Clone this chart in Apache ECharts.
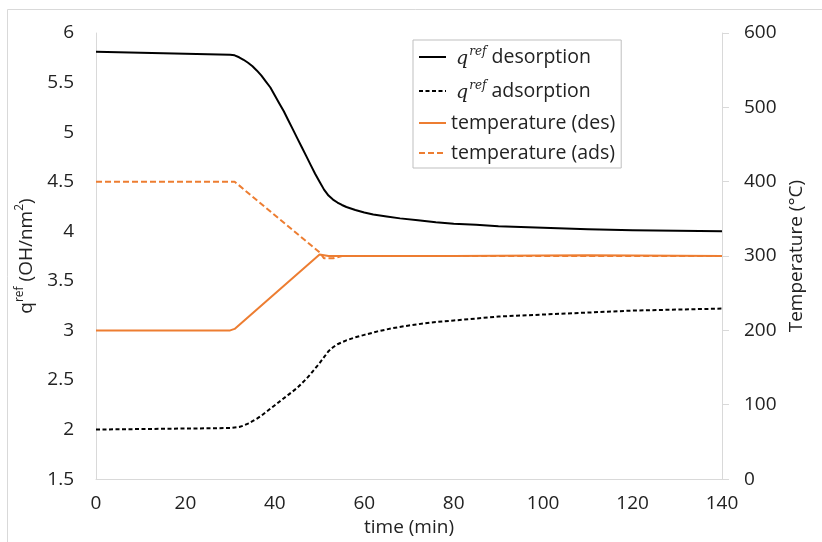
<!DOCTYPE html>
<html>
<head>
<meta charset="utf-8">
<script src="https://cdn.jsdelivr.net/npm/echarts@6/dist/echarts.min.js"></script>
<style>html,body{margin:0;padding:0;background:#fff;}#c{width:822px;height:542px;}</style>
</head>
<body>
<div id="c"></div>
<script>
const desTime = [0, 10, 20, 30, 31, 32, 33, 34, 35, 36, 37, 38, 39, 40, 41, 42, 43, 44, 45, 46, 47, 48, 49, 50, 51, 52, 53, 54, 55, 56, 58, 60, 62, 65, 68, 72, 76, 80, 85, 90, 100, 110, 120, 130, 140];
const desQ = [5.81, 5.80, 5.79, 5.78, 5.775, 5.755, 5.73, 5.70, 5.665, 5.62, 5.57, 5.51, 5.45, 5.37, 5.29, 5.21, 5.12, 5.03, 4.94, 4.85, 4.76, 4.67, 4.58, 4.50, 4.42, 4.36, 4.32, 4.29, 4.265, 4.245, 4.215, 4.19, 4.17, 4.15, 4.13, 4.11, 4.09, 4.075, 4.065, 4.05, 4.035, 4.02, 4.01, 4.005, 4.0];

const adsTime = [0, 10, 20, 30, 31, 32, 33, 34, 35, 36, 37, 38, 39, 40, 41, 42, 43, 44, 45, 46, 47, 48, 49, 50, 51, 52, 53, 54, 55, 56, 58, 60, 63, 66, 70, 75, 80, 85, 90, 100, 110, 120, 130, 140];
const adsQ = [2.0, 2.005, 2.01, 2.015, 2.02, 2.025, 2.04, 2.06, 2.085, 2.11, 2.14, 2.175, 2.21, 2.245, 2.28, 2.315, 2.35, 2.385, 2.42, 2.465, 2.51, 2.56, 2.615, 2.67, 2.73, 2.79, 2.83, 2.86, 2.88, 2.90, 2.93, 2.955, 2.99, 3.02, 3.05, 3.08, 3.10, 3.12, 3.14, 3.16, 3.18, 3.20, 3.21, 3.22];

const tDesTime = [0, 30, 31, 50, 52, 80, 110, 140];
const tDes = [200, 200, 202, 302, 300, 300, 301, 300];

const tAdsTime = [0, 31, 50, 51, 53, 55, 140];
const tAds = [400, 400, 305, 297, 297, 300, 300];

const seriesNames = ['q_des', 'q_ads', 'temperature (des)', 'temperature (ads)'];

function pairs(xs, ys) { return xs.map((x, i) => [x, ys[i]]); }

const FONT = 'Open Sans';
const FS = 19;
const ORANGE = '#ED7D31';
const TXT = '#222';
const chart = echarts.init(document.getElementById('c'), null, {renderer: 'canvas'});

const legendLabels = {
  'q_des': '{q|q}{sup|ref}{t| desorption}',
  'q_ads': '{q|q}{sup|ref}{t| adsorption}',
  'temperature (des)': '{t|temperature (des)}',
  'temperature (ads)': '{t|temperature (ads)}'
};

chart.setOption({
  animation: false,
  backgroundColor: '#fff',
  textStyle: {fontFamily: FONT},
  graphic: [{
    type: 'rect', silent: true, z: -10,
    shape: {x: 7.5, y: 9.5, width: 840, height: 560},
    style: {fill: 'none', stroke: '#d9d9d9', lineWidth: 1}
  }],
  grid: {left: 96, right: 100, top: 33, bottom: 61, containLabel: false},
  legend: {
    orient: 'vertical', left: 413, top: 40,
    data: seriesNames,
    itemWidth: 27, itemHeight: 14, itemGap: 10,
    padding: [5, 6, 5, 5],
    borderColor: '#bfbfbf', borderWidth: 1, backgroundColor: '#fff',
    itemStyle: {opacity: 0},
    formatter: n => legendLabels[n],
    textStyle: {
      color: TXT,
      rich: {
        q: {fontFamily: 'DejaVu Serif', fontStyle: 'italic', fontSize: 19, lineHeight: 24, padding: [0, 0, 0, 5], verticalAlign: 'bottom', color: TXT},
        sup: {fontFamily: 'DejaVu Serif', fontStyle: 'italic', fontSize: 12, lineHeight: 24, verticalAlign: 'top', padding: [1, 0, 0, 1], color: TXT},
        t: {fontFamily: FONT, fontSize: 19.5, lineHeight: 24, color: TXT}
      }
    }
  },
  xAxis: {
    type: 'value', min: 0, max: 140, interval: 20,
    name: 'time (min)', nameLocation: 'middle', nameGap: 34,
    nameTextStyle: {fontSize: FS, color: TXT, fontFamily: FONT},
    axisLine: {show: true, lineStyle: {color: '#d9d9d9', width: 1}},
    axisTick: {show: false},
    splitLine: {show: false},
    axisLabel: {fontSize: FS, color: TXT, margin: 15, fontFamily: FONT}
  },
  yAxis: [{
    type: 'value', min: 1.5, max: 6, interval: 0.5, position: 'left',
    name: '{n|q}{s|ref}{n| (OH/nm}{s|2}{n|)}', nameLocation: 'middle', nameGap: 52, nameRotate: 90,
    nameTextStyle: {
      color: TXT,
      rich: {
        n: {fontSize: FS, fontFamily: FONT, color: TXT, lineHeight: 24, verticalAlign: 'bottom'},
        s: {fontSize: 12, fontFamily: FONT, color: TXT, lineHeight: 24, verticalAlign: 'top', padding: [1, 0, 0, 0]}
      }
    },
    axisLine: {show: true, lineStyle: {color: '#d9d9d9', width: 1}},
    axisTick: {show: false},
    splitLine: {show: false},
    axisLabel: {fontSize: FS, color: TXT, margin: 22, fontFamily: FONT}
  }, {
    type: 'value', min: 0, max: 600, interval: 100, position: 'right',
    name: 'Temperature (°C)', nameLocation: 'middle', nameGap: 64, nameRotate: 90,
    nameTextStyle: {fontSize: FS, color: TXT, fontFamily: FONT},
    axisLine: {show: true, lineStyle: {color: '#d9d9d9', width: 1}},
    axisTick: {show: true, length: 7, inside: false, lineStyle: {color: '#d9d9d9'}},
    splitLine: {show: false},
    axisLabel: {fontSize: FS, color: TXT, margin: 22, fontFamily: FONT}
  }],
  series: [{
    name: seriesNames[0], type: 'line', yAxisIndex: 0, symbol: 'none',
    data: pairs(desTime, desQ), color: '#000',
    lineStyle: {color: '#000', width: 2, type: 'solid', join: 'round'}
  }, {
    name: seriesNames[1], type: 'line', yAxisIndex: 0, symbol: 'none',
    data: pairs(adsTime, adsQ), color: '#000',
    lineStyle: {color: '#000', width: 2, type: [4, 2.5], join: 'round'}
  }, {
    name: seriesNames[2], type: 'line', yAxisIndex: 1, symbol: 'none',
    data: pairs(tDesTime, tDes), color: ORANGE,
    lineStyle: {color: ORANGE, width: 2, type: 'solid'}
  }, {
    name: seriesNames[3], type: 'line', yAxisIndex: 1, symbol: 'none',
    data: pairs(tAdsTime, tAds), color: ORANGE,
    lineStyle: {color: ORANGE, width: 2, type: [6, 3]}
  }]
});
</script>
</body>
</html>
